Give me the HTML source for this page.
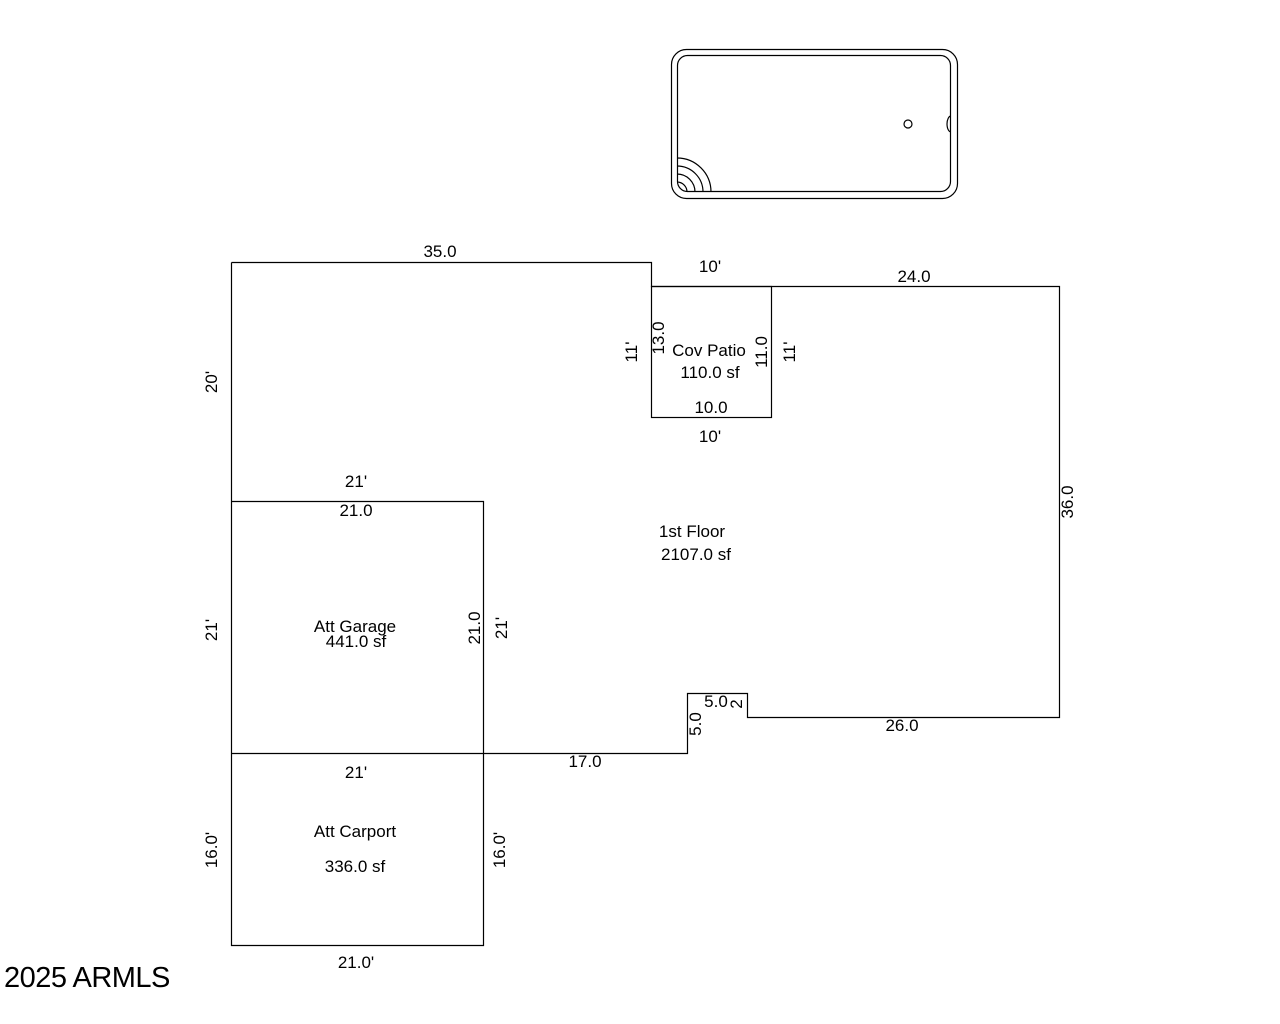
<!DOCTYPE html>
<html><head><style>body{margin:0;background:#fff}svg{display:block}text{font-family:"Liberation Sans",sans-serif;font-size:17px;fill:#000}</style></head><body>
<svg width="1280" height="1024" viewBox="0 0 1280 1024">
<g fill="none" stroke="#000" stroke-width="1.2">
<rect x="671.5" y="49.5" width="286" height="149" rx="15"/>
<rect x="677.5" y="55.5" width="273" height="136" rx="10"/>
<circle cx="908" cy="124" r="4"/>
<path d="M951 116 A4 8 0 0 0 951 132"/>
<path d="M677 158 A34 34 0 0 1 711 192 M677 166 A26 26 0 0 1 703 192 M677 174 A18 18 0 0 1 695 192 M677 182 A10 10 0 0 1 687 192"/>
<path d="M231.5 262.5 H651.5 V286.5 H1059.5 V717.5 H747.5 V693.5 H687.5 V753.5 H483.5"/>
<path d="M231.5 262.5 V945.5 H483.5 V501.5 H231.5 M231.5 753.5 H483.5"/>
<rect x="651.5" y="286.5" width="120" height="131"/>
</g>
<g text-anchor="middle">
<text x="440" y="257">35.0</text>
<text x="710" y="272">10'</text>
<text x="914" y="282">24.0</text>
<text x="709" y="356">Cov Patio</text>
<text x="710" y="378">110.0 sf</text>
<text x="711" y="413">10.0</text>
<text x="710" y="442">10'</text>
<text x="356" y="487">21'</text>
<text x="356" y="516">21.0</text>
<text x="692" y="537">1st Floor</text>
<text x="696" y="560">2107.0 sf</text>
<text x="355" y="632">Att Garage</text>
<text x="356" y="647">441.0 sf</text>
<text x="716" y="707">5.0</text>
<text x="902" y="731">26.0</text>
<text x="585" y="767">17.0</text>
<text x="356" y="778">21'</text>
<text x="355" y="837">Att Carport</text>
<text x="355" y="872">336.0 sf</text>
<text x="356" y="968">21.0'</text>
<text transform="translate(217,382) rotate(-90)">20'</text>
<text transform="translate(637,352) rotate(-90)">11'</text>
<text transform="translate(664,338) rotate(-90)">13.0</text>
<text transform="translate(767,352) rotate(-90)">11.0</text>
<text transform="translate(795,352) rotate(-90)">11'</text>
<text transform="translate(1073,502) rotate(-90)">36.0</text>
<text transform="translate(217,630) rotate(-90)">21'</text>
<text transform="translate(480,628) rotate(-90)">21.0</text>
<text transform="translate(507,628) rotate(-90)">21'</text>
<text transform="translate(701,724) rotate(-90)">5.0</text>
<text transform="translate(742,704) rotate(-90)">2</text>
<text transform="translate(217,850) rotate(-90)">16.0'</text>
<text transform="translate(505,850) rotate(-90)">16.0'</text>
</g>
<text x="4" y="987" style="font-size:29px;letter-spacing:-0.5px" fill="#222">2025 ARMLS</text>
</svg>
</body></html>
